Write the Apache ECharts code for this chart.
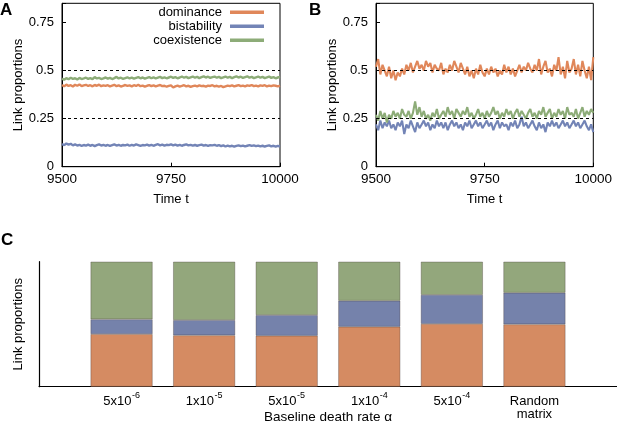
<!DOCTYPE html>
<html><head><meta charset="utf-8">
<script src="https://cdn.jsdelivr.net/npm/echarts@6/dist/echarts.min.js"></script>
<style>html,body{margin:0;padding:0;background:#fff}#c{width:617px;height:424px}</style>
</head><body><div id="c"></div>
<script>
const seriesNames = ['dominance', 'bistability', 'coexistence'];
const timeStart = 9500, timeEnd = 10000, timeInterval = 250;
const yMax = 0.85, yInterval = 0.25;
const yTickLabels = ['0', '0.25', '0.5', '0.75'];
const refLines = [0.5, 0.25];

// Panel A time series (samples evenly spaced from 9500 to 10000)
const A_dominance = [
0.425,0.418,0.427,0.420,0.424,0.417,0.426,0.421,0.428,0.419,0.423,
0.426,0.420,0.424,0.418,0.425,0.421,0.427,0.419,0.423,0.420,
0.424,0.418,0.422,0.426,0.419,0.423,0.417,0.421,0.425,0.420,
0.423,0.418,0.424,0.420,0.426,0.419,0.422,0.417,0.421,0.424,
0.419,0.423,0.418,0.422,0.425,0.419,0.421,0.416,0.420,0.423,
0.412,0.418,0.422,0.417,0.420,0.424,0.418,0.421,0.415,0.419,
0.422,0.418,0.423,0.419,0.421,0.417,0.422,0.420,0.424,0.418,
0.421,0.417,0.420,0.414,0.418,0.422,0.419,0.423,0.418,0.421,
0.424,0.419,0.422,0.418,0.423,0.420,0.425,0.419,0.422,0.418,
0.423,0.420,0.424,0.418,0.422,0.419,0.423,0.421,0.418,0.422];
const A_bistability = [
0.118,0.112,0.121,0.115,0.119,0.111,0.116,0.110,0.114,0.108,0.113,
0.110,0.115,0.109,0.113,0.107,0.112,0.116,0.110,0.114,0.109,
0.113,0.108,0.112,0.116,0.110,0.114,0.109,0.113,0.111,0.115,
0.109,0.114,0.110,0.116,0.112,0.108,0.113,0.111,0.115,0.110,
0.114,0.109,0.113,0.117,0.111,0.115,0.110,0.114,0.112,0.116,
0.111,0.115,0.110,0.114,0.109,0.113,0.116,0.111,0.114,0.110,
0.113,0.109,0.112,0.115,0.110,0.113,0.108,0.112,0.111,0.114,
0.109,0.112,0.107,0.111,0.105,0.110,0.106,0.109,0.104,0.108,
0.111,0.107,0.110,0.106,0.109,0.112,0.108,0.111,0.107,0.110,
0.106,0.109,0.105,0.108,0.111,0.106,0.109,0.104,0.108,0.105];
const A_coexistence = [
0.458,0.452,0.461,0.455,0.463,0.457,0.460,0.454,0.462,0.456,0.459,
0.463,0.457,0.461,0.455,0.466,0.459,0.462,0.456,0.460,0.464,
0.458,0.462,0.456,0.461,0.467,0.459,0.463,0.457,0.461,0.465,
0.459,0.463,0.458,0.462,0.466,0.460,0.464,0.458,0.462,0.466,
0.460,0.465,0.459,0.463,0.467,0.461,0.465,0.460,0.464,0.468,
0.462,0.466,0.460,0.464,0.469,0.463,0.467,0.461,0.465,0.469,
0.463,0.467,0.461,0.466,0.470,0.464,0.468,0.462,0.466,0.469,
0.463,0.467,0.461,0.465,0.469,0.463,0.467,0.461,0.466,0.470,
0.464,0.468,0.462,0.466,0.470,0.463,0.467,0.461,0.465,0.469,
0.463,0.467,0.461,0.465,0.469,0.462,0.466,0.460,0.464,0.467];

// Panel B time series
const B_dominance = [
0.52,0.56,0.48,0.53,0.50,0.47,0.52,0.46,0.50,0.45,0.49,
0.47,0.51,0.48,0.53,0.50,0.54,0.49,0.52,0.55,0.51,
0.53,0.50,0.55,0.52,0.54,0.49,0.53,0.51,0.50,0.54,
0.48,0.51,0.49,0.53,0.50,0.55,0.52,0.49,0.54,0.51,
0.48,0.52,0.47,0.50,0.46,0.51,0.48,0.53,0.49,0.47,
0.51,0.48,0.52,0.49,0.51,0.47,0.50,0.48,0.53,0.49,
0.52,0.48,0.51,0.47,0.50,0.53,0.49,0.52,0.50,0.54,
0.51,0.49,0.53,0.50,0.56,0.48,0.52,0.55,0.49,0.51,
0.47,0.53,0.50,0.57,0.48,0.52,0.46,0.55,0.49,0.51,
0.56,0.48,0.53,0.47,0.55,0.50,0.46,0.52,0.45,0.57];
const B_bistability = [
0.22,0.19,0.24,0.20,0.23,0.21,0.24,0.20,0.22,0.19,0.23,
0.21,0.24,0.17,0.22,0.20,0.24,0.21,0.18,0.23,0.20,
0.22,0.24,0.21,0.23,0.19,0.22,0.20,0.24,0.21,0.23,
0.20,0.23,0.19,0.22,0.24,0.21,0.23,0.20,0.22,0.19,
0.23,0.21,0.24,0.20,0.22,0.24,0.21,0.23,0.20,0.22,
0.24,0.21,0.23,0.19,0.22,0.24,0.20,0.23,0.21,0.22,
0.19,0.23,0.21,0.24,0.20,0.22,0.26,0.21,0.23,0.20,
0.22,0.24,0.21,0.19,0.23,0.20,0.22,0.18,0.23,0.21,
0.24,0.21,0.23,0.20,0.22,0.24,0.21,0.23,0.20,0.22,
0.24,0.21,0.23,0.20,0.22,0.24,0.21,0.19,0.22,0.18];
const B_coexistence = [
0.27,0.24,0.29,0.25,0.28,0.23,0.27,0.25,0.29,0.26,0.28,
0.25,0.30,0.27,0.26,0.29,0.25,0.28,0.34,0.27,0.31,
0.26,0.29,0.25,0.27,0.24,0.28,0.26,0.30,0.25,0.27,
0.29,0.26,0.31,0.27,0.29,0.25,0.30,0.28,0.26,0.29,
0.27,0.31,0.26,0.28,0.25,0.27,0.30,0.26,0.28,0.25,
0.29,0.26,0.28,0.31,0.27,0.29,0.25,0.28,0.26,0.30,
0.27,0.29,0.25,0.28,0.30,0.26,0.29,0.27,0.25,0.28,
0.30,0.26,0.28,0.25,0.29,0.27,0.31,0.26,0.28,0.30,
0.25,0.28,0.26,0.30,0.27,0.29,0.25,0.31,0.27,0.28,
0.26,0.30,0.25,0.28,0.31,0.26,0.29,0.27,0.30,0.28];

// Panel C
const C_labelBase = ['5x10', '1x10', '5x10', '1x10', '5x10', 'Random\nmatrix'];
const C_labelExp = ['-6', '-5', '-5', '-4', '-4', ''];
const C_dominance = [0.421, 0.411, 0.408, 0.480, 0.503, 0.499];
const C_bistability = [0.118, 0.122, 0.165, 0.208, 0.232, 0.253];
const C_coexistence = [0.461, 0.467, 0.427, 0.312, 0.265, 0.248];

const lineColors = ['#e0875a', '#7384b6', '#8dac78'];
const barColors = ['#d58b62', '#7582ab', '#93a77c'];
const FONT = '"Liberation Sans", Arial, Helvetica, sans-serif';

function pairs(vals) {
  const n = vals.length;
  return vals.map((v, i) => [timeStart + i * (timeEnd - timeStart) / (n - 1), v]);
}

const chart = echarts.init(document.getElementById('c'), null, {renderer: 'canvas'});

function timeX(gi) {
  return {
    type: 'value', gridIndex: gi, min: timeStart, max: timeEnd, interval: timeInterval,
    name: 'Time t', nameLocation: 'middle', nameGap: 26, nameMoveOverlap: false,
    nameTextStyle: {color: '#000', fontSize: 13, fontFamily: FONT},
    axisLine: {lineStyle: {color: '#000', width: 1}},
    axisTick: {inside: true, length: 4, lineStyle: {color: '#000'}},
    axisLabel: {color: '#000', fontSize: 13.5, fontFamily: FONT, margin: 6, formatter: v => String(v)},
    splitLine: {show: false}
  };
}
function propY(gi) {
  return {
    type: 'value', gridIndex: gi, min: 0, max: yMax, interval: yInterval,
    name: 'Link proportions', nameLocation: 'middle', nameGap: 37, nameMoveOverlap: false,
    nameTextStyle: {color: '#000', fontSize: 13, fontFamily: FONT},
    axisLine: {show: true, lineStyle: {color: '#000', width: 1}},
    axisTick: {inside: true, length: 4, lineStyle: {color: '#000'}},
    axisLabel: {color: '#000', fontSize: 13, fontFamily: FONT, margin: 8,
      formatter: v => {
        const k = Math.round(v / yInterval);
        return (Math.abs(v - k * yInterval) < 1e-9 && k < yTickLabels.length) ? yTickLabels[k] : '';
      }},
    splitLine: {show: false}
  };
}

const panelSeries = [];
[[A_dominance, A_bistability, A_coexistence, 0, 2.4], [B_dominance, B_bistability, B_coexistence, 1, 2.1]].forEach(p => {
  [p[0], p[1], p[2]].forEach((vals, si) => {
    const s = {
      name: seriesNames[si], type: 'line', xAxisIndex: p[3], yAxisIndex: p[3],
      data: pairs(vals), showSymbol: false, symbol: 'none',
      lineStyle: {color: lineColors[si], width: p[4]}, itemStyle: {color: lineColors[si]},
      z: 2
    };
    if (si === 2) {
      s.z = 3;
      s.markLine = {
        silent: true, symbol: 'none', label: {show: false},
        lineStyle: {color: '#000', type: [3, 3], width: 1},
        data: refLines.map(v => ({yAxis: v}))
      };
    }
    panelSeries.push(s);
  });
});

const cCats = [''].concat(C_labelBase.map((b, i) => String(i))).concat(['']);
const barSeries = [C_dominance, C_bistability, C_coexistence].map((vals, si) => ({
  name: seriesNames[si] + ' C', type: 'bar', stack: 'C', xAxisIndex: 2, yAxisIndex: 2,
  barWidth: 62,
  data: [null].concat(vals).concat([null]),
  itemStyle: {color: barColors[si], borderColor: 'rgba(60,50,50,0.55)', borderWidth: 0.6},
  emphasis: {disabled: true}
}));

chart.setOption({
  animation: false,
  backgroundColor: '#fff',
  textStyle: {fontFamily: FONT},
  title: [
    {text: 'A', left: 0, top: 1.5, padding: 0, textStyle: {fontSize: 17, fontWeight: 'bold', color: '#000', fontFamily: FONT}},
    {text: 'B', left: 309, top: 1.5, padding: 0, textStyle: {fontSize: 17, fontWeight: 'bold', color: '#000', fontFamily: FONT}},
    {text: 'C', left: 1, top: 232, padding: 0, textStyle: {fontSize: 17, fontWeight: 'bold', color: '#000', fontFamily: FONT}}
  ],
  legend: {
    data: seriesNames, orient: 'vertical', align: 'right', right: 353, top: 5.5, padding: 0,
    itemGap: 0.5, itemWidth: 34, itemHeight: 3.5, icon: 'rect',
    textStyle: {fontSize: 13, color: '#000', fontFamily: FONT, lineHeight: 13.5, padding: [0, 3, 0, 0]},
    selectedMode: false
  },
  grid: [
    {left: 62, top: 3.3, width: 218, height: 163.4, show: true, borderColor: '#000', borderWidth: 1, backgroundColor: 'transparent', outerBoundsMode: 'none'},
    {left: 376, top: 3.3, width: 217.3, height: 163.4, show: true, borderColor: '#000', borderWidth: 1, backgroundColor: 'transparent', outerBoundsMode: 'none'},
    {left: 39, right: 0, top: 261.7, bottom: 37.3, outerBoundsMode: 'none'}
  ],
  xAxis: [timeX(0), timeX(1), {
    type: 'category', gridIndex: 2, data: cCats, boundaryGap: false,
    name: 'Baseline death rate α', nameLocation: 'middle', nameGap: 23.5, nameMoveOverlap: false,
    nameTextStyle: {color: '#000', fontSize: 13.5, fontFamily: FONT},
    axisLine: {lineStyle: {color: '#000', width: 1.2}},
    axisTick: {show: false},
    axisLabel: {
      interval: 0, margin: 8, color: '#000', fontFamily: FONT,
      formatter: (v) => {
        if (v === '') return '';
        const i = Number(v);
        const base = C_labelBase[i];
        if (!C_labelExp[i]) return base.split('\n').map(t => '{b|' + t + '}').join('\n');
        return '{b|' + base + '}{s|' + C_labelExp[i] + '}';
      },
      rich: {
        b: {fontSize: 13, lineHeight: 13, color: '#000', fontFamily: FONT, verticalAlign: 'bottom'},
        s: {fontSize: 9, lineHeight: 9, color: '#000', fontFamily: FONT, verticalAlign: 'bottom', padding: [0, 0, 8, 0.5]}
      }
    }
  }],
  yAxis: [propY(0), propY(1), {
    type: 'value', gridIndex: 2, min: 0, max: 1,
    name: 'Link proportions', nameLocation: 'middle', nameGap: 14, nameMoveOverlap: false,
    nameTextStyle: {color: '#000', fontSize: 13, fontFamily: FONT},
    axisLine: {show: true, lineStyle: {color: '#000', width: 1.2}},
    axisTick: {show: false}, axisLabel: {show: false}, splitLine: {show: false}
  }],
  series: panelSeries.concat(barSeries)
});
</script></body></html>
